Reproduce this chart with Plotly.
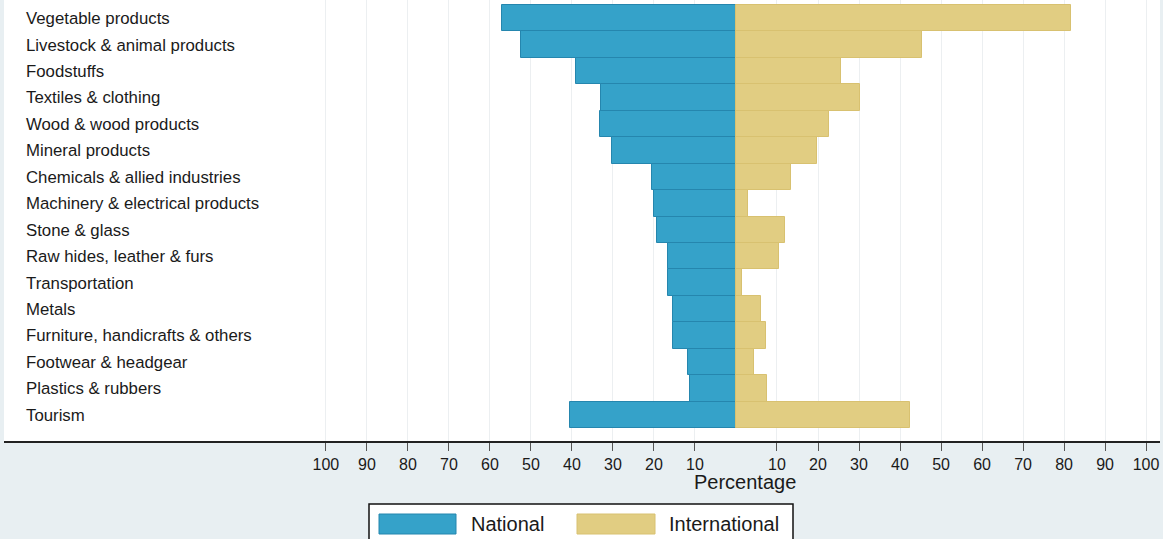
import plotly.graph_objects as go

categories = [
    "Vegetable products", "Livestock & animal products", "Foodstuffs",
    "Textiles & clothing", "Wood & wood products", "Mineral products",
    "Chemicals & allied industries", "Machinery & electrical products",
    "Stone & glass", "Raw hides, leather & furs", "Transportation", "Metals",
    "Furniture, handicrafts & others", "Footwear & headgear",
    "Plastics & rubbers", "Tourism",
]
national = [57.1, 52.4, 39.0, 32.9, 33.1, 30.3, 20.5, 19.9, 19.3, 16.6, 16.6,
            15.4, 15.4, 11.8, 11.3, 40.4]
international = [81.8, 45.4, 25.7, 30.3, 22.8, 19.7, 13.5, 2.9, 12.0, 10.6,
                 1.5, 6.1, 7.4, 4.5, 7.6, 42.5]
tick_values = [10, 20, 30, 40, 50, 60, 70, 80, 90, 100]

BLUE = "#35a2c9"
GOLD = "#e1cd82"
BG = "#e8eff2"

fig = go.Figure()
fig.add_trace(go.Bar(
    y=categories, x=[-v for v in national], orientation="h", name="National",
    customdata=national, hovertemplate="%{y}<br>National: %{customdata}%<extra></extra>",
    marker=dict(color=BLUE, line=dict(color="#2586ae", width=1)),
    showlegend=False,
))
fig.add_trace(go.Bar(
    y=categories, x=international, orientation="h", name="International",
    hovertemplate="%{y}<br>International: %{x}%<extra></extra>",
    marker=dict(color=GOLD, line=dict(color="#d8c170", width=1)),
    showlegend=False,
))

tickvals = [-v for v in reversed(tick_values)] + tick_values
ticktext = [str(v) for v in reversed(tick_values)] + [str(v) for v in tick_values]

fig.update_layout(
    width=1163, height=539,
    margin=dict(l=4, r=3, t=0, b=98),
    paper_bgcolor=BG, plot_bgcolor="white",
    barmode="relative", bargap=0,
    font=dict(family="Liberation Sans, Arial, sans-serif", size=16, color="#1a1a1a"),
    xaxis=dict(
        range=[-178.5, 103.4], tickvals=tickvals, ticktext=ticktext,
        showgrid=True, gridcolor="#eceff1", gridwidth=1, zeroline=False,
        showline=True, linecolor="#222222", linewidth=1.5,
        ticks="outside", ticklen=8, tickcolor="#555555", tickwidth=1,
        tickfont=dict(size=16, color="#1a1a1a"), fixedrange=True,
    ),
    yaxis=dict(
        categoryorder="array", categoryarray=categories,
        range=[15.99, -0.69], showgrid=False, zeroline=False, showline=False,
        ticks="", ticklabelposition="inside", ticklabelstandoff=19,
        tickfont=dict(size=16.8, color="#1a1a1a"), fixedrange=True,
    ),
    hovermode="closest",
)

def py(p):
    return (441 - p) / 441.0

def px(p):
    return (p - 4) / 1156.0

fig.add_annotation(text="Percentage", xref="paper", yref="paper",
                   x=px(745), y=py(482), xanchor="center", yanchor="middle",
                   showarrow=False, font=dict(size=20, color="#1a1a1a"))

# custom legend box
fig.add_shape(type="rect", xref="paper", yref="paper",
              x0=px(369), x1=px(793), y0=py(504), y1=py(560),
              line=dict(color="#111111", width=1.5), fillcolor="white", layer="above")
fig.add_shape(type="rect", xref="paper", yref="paper",
              x0=px(379), x1=px(456), y0=py(514), y1=py(534),
              line=dict(color="#2586ae", width=1), fillcolor=BLUE, layer="above")
fig.add_shape(type="rect", xref="paper", yref="paper",
              x0=px(577), x1=px(655), y0=py(514), y1=py(534),
              line=dict(color="#d8c170", width=1), fillcolor=GOLD, layer="above")
fig.add_annotation(text="National", xref="paper", yref="paper",
                   x=px(469), y=py(524), xanchor="left", yanchor="middle",
                   showarrow=False, font=dict(size=20, color="#1a1a1a"))
fig.add_annotation(text="International", xref="paper", yref="paper",
                   x=px(667), y=py(524), xanchor="left", yanchor="middle",
                   showarrow=False, font=dict(size=20, color="#1a1a1a"))

fig.write_html(
    "out.html",
    config={"displayModeBar": False},
    post_script="document.body.style.margin='0';document.body.style.padding='0';"
                "document.body.style.overflow='hidden';",
)
